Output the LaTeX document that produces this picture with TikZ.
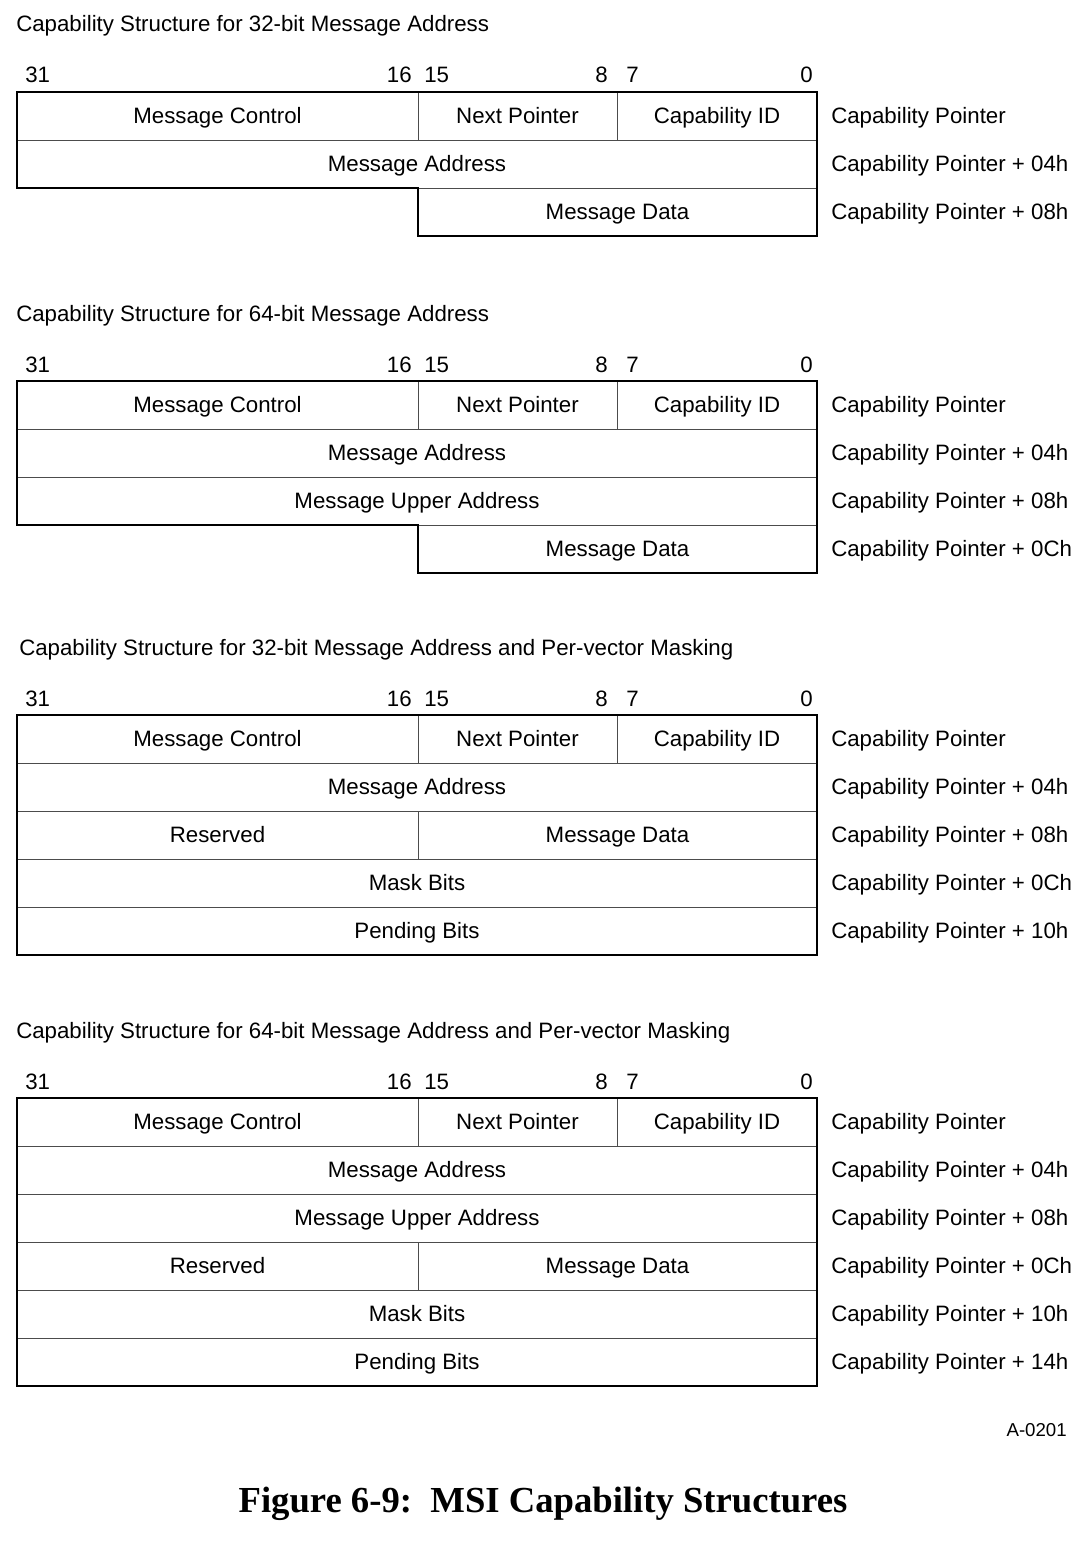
\documentclass[tikz,border=0pt]{standalone}
\usepackage{fontspec}
\setmainfont{Liberation Sans}
\newfontfamily\capfont{Liberation Serif}
\begin{document}
\begin{tikzpicture}[x=0.75pt,y=-0.75pt,
  inner/.style={draw=black!70,line width=0.75pt},
  outer/.style={draw=black,line width=1.5pt,line join=miter},
  lbl/.style={font=\fontsize{16.7}{20}\selectfont,inner sep=0pt,anchor=base},
  side/.style={font=\fontsize{16.7}{20}\selectfont,inner sep=0pt,anchor=base west},
  ttl/.style={font=\fontsize{16.7}{20}\selectfont,inner sep=0pt,anchor=base west},
  bitl/.style={font=\fontsize{16.7}{20}\selectfont,inner sep=0pt,anchor=base west},
  bitr/.style={font=\fontsize{16.7}{20}\selectfont,inner sep=0pt,anchor=base east}]
\useasboundingbox (0,0) rectangle (1082,1542);
\newcommand{\cell}[6]{%
  \draw[inner] (#1,#2) rectangle (#3,#4);
  \node[lbl] (#6) at ({(#1+#3)/2},{(#2+#4)/2+7.5}) {#5};}
\newcommand{\bits}[2]{% #1 baseline y, #2 prefix
  \node[bitl] (#2b31) at (25,#1) {31};
  \node[bitr] (#2b16) at (412,#1) {16};
  \node[bitl] (#2b15) at (424,#1) {15};
  \node[bitr] (#2b8) at (608,#1) {8};
  \node[bitl] (#2b7) at (626,#1) {7};
  \node[bitr] (#2b0) at (813,#1) {0};}
\newcommand{\toprow}[2]{% #1 top y, #2 prefix
  \cell{17}{#1}{418}{#1+48}{Message Control}{#2mc}
  \cell{418}{#1}{617}{#1+48}{Next Pointer}{#2np}
  \cell{617}{#1}{817}{#1+48}{Capability ID}{#2cid}
  \node[side] (#2o0) at (831,#1+31.5) {Capability Pointer};}
% ---------- Diagram 1 ----------
\node[ttl] (t1) at (16,31) {Capability Structure for 32-bit Message Address};
\bits{82}{a}
\toprow{92}{a}
\cell{17}{140}{817}{188}{Message Address}{ama}
\cell{418}{188}{817}{236}{Message Data}{amd}
\node[side] (ao4) at (831,171.5) {Capability Pointer + 04h};
\node[side] (ao8) at (831,219.5) {Capability Pointer + 08h};
\draw[outer] (17,92) -- (817,92) -- (817,236) -- (418,236) -- (418,188) -- (17,188) -- cycle;
% ---------- Diagram 2 ----------
\node[ttl] (t2) at (16,321) {Capability Structure for 64-bit Message Address};
\bits{372}{b}
\toprow{381}{b}
\cell{17}{429}{817}{477}{Message Address}{bma}
\cell{17}{477}{817}{525}{Message Upper Address}{bmu}
\cell{418}{525}{817}{573}{Message Data}{bmd}
\node[side] (bo4) at (831,460.5) {Capability Pointer + 04h};
\node[side] (bo8) at (831,508.5) {Capability Pointer + 08h};
\node[side] (boc) at (831,556.5) {Capability Pointer + 0Ch};
\draw[outer] (17,381) -- (817,381) -- (817,573) -- (418,573) -- (418,525) -- (17,525) -- cycle;
% ---------- Diagram 3 ----------
\node[ttl] (t3) at (19,655) {Capability Structure for 32-bit Message Address and Per-vector Masking};
\bits{706}{c}
\toprow{715}{c}
\cell{17}{763}{817}{811}{Message Address}{cma}
\cell{17}{811}{418}{859}{Reserved}{crs}
\cell{418}{811}{817}{859}{Message Data}{cmd}
\cell{17}{859}{817}{907}{Mask Bits}{cmb}
\cell{17}{907}{817}{955}{Pending Bits}{cpb}
\node[side] (co4) at (831,794.5) {Capability Pointer + 04h};
\node[side] (co8) at (831,842.5) {Capability Pointer + 08h};
\node[side] (coc) at (831,890.5) {Capability Pointer + 0Ch};
\node[side] (co10) at (831,938.5) {Capability Pointer + 10h};
\draw[outer] (17,715) rectangle (817,955);
% ---------- Diagram 4 ----------
\node[ttl] (t4) at (16,1038) {Capability Structure for 64-bit Message Address and Per-vector Masking};
\bits{1089}{d}
\toprow{1098}{d}
\cell{17}{1146}{817}{1194}{Message Address}{dma}
\cell{17}{1194}{817}{1242}{Message Upper Address}{dmu}
\cell{17}{1242}{418}{1290}{Reserved}{drs}
\cell{418}{1242}{817}{1290}{Message Data}{dmd}
\cell{17}{1290}{817}{1338}{Mask Bits}{dmb}
\cell{17}{1338}{817}{1386}{Pending Bits}{dpb}
\node[side] (do4) at (831,1177.5) {Capability Pointer + 04h};
\node[side] (do8) at (831,1225.5) {Capability Pointer + 08h};
\node[side] (doc) at (831,1273.5) {Capability Pointer + 0Ch};
\node[side] (do10) at (831,1321.5) {Capability Pointer + 10h};
\node[side] (do14) at (831,1369.5) {Capability Pointer + 14h};
\draw[outer] (17,1098) rectangle (817,1386);
% ---------- footer ----------
\node[font=\fontsize{14}{16}\selectfont,inner sep=0pt,anchor=base east] (code) at (1067,1436) {A-0201};
\node[font=\capfont\bfseries\fontsize{27.5}{32}\selectfont,inner sep=0pt,anchor=base] (cap) at (543,1512) {Figure 6-9:\ \ MSI Capability Structures};
\end{tikzpicture}
\end{document}
